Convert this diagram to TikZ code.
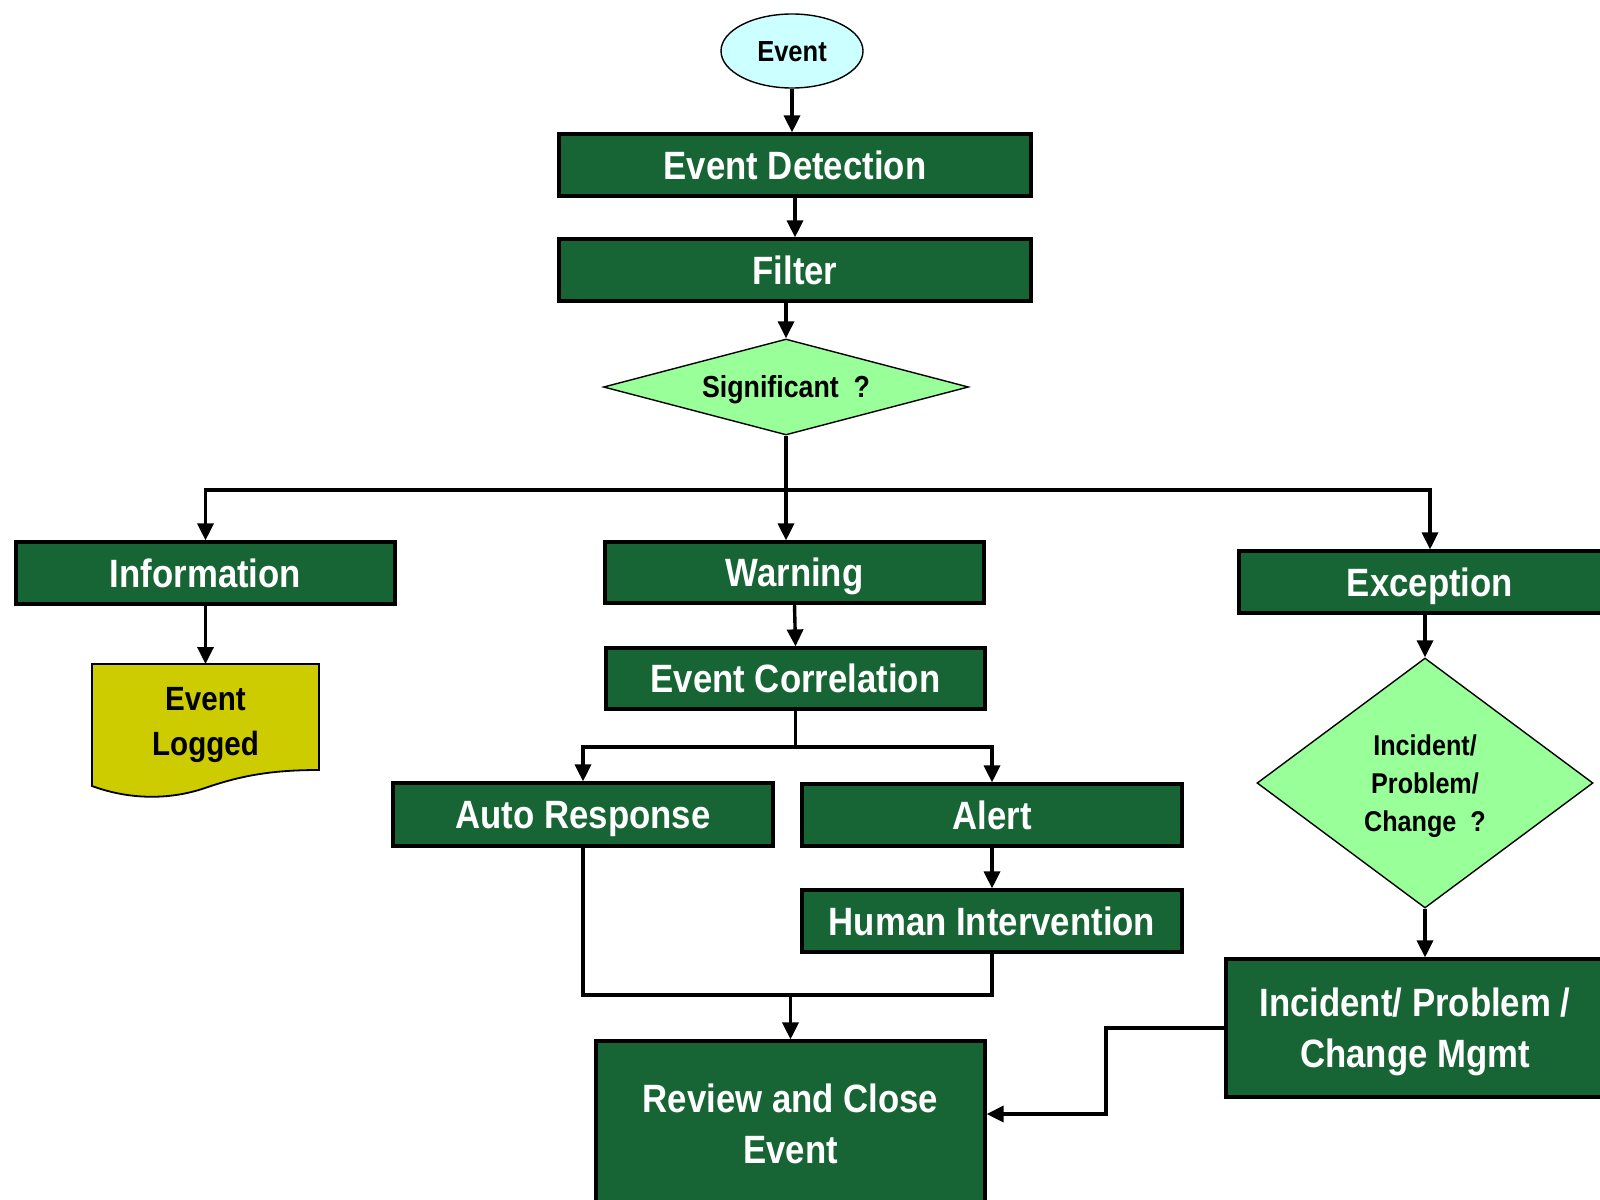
\documentclass[tikz,border=0pt]{standalone}
\usepackage{fontspec}
\setmainfont{Liberation Sans}[FakeStretch=0.88]
\usetikzlibrary{arrows.meta,shapes.geometric}
\definecolor{boxgreen}{RGB}{23,100,52}
\definecolor{evcyan}{RGB}{204,255,255}
\definecolor{decgreen}{RGB}{153,255,153}
\definecolor{logyellow}{RGB}{204,204,0}
\begin{document}
\begin{tikzpicture}[x=0.5pt,y=-0.5pt,
  greenbox/.style={draw=black,line width=1.6pt,fill=boxgreen,text=white,
    font=\fontsize{19.75}{25.5}\selectfont\bfseries,inner sep=0pt,align=center,text depth=0pt},
  oneline/.style={text height=14pt,text depth=0pt},
  decision/.style={diamond,draw=black,line width=0.7pt,fill=decgreen,inner sep=0pt,
    align=center,text depth=0pt},
  arr/.style={line width=1.7pt,-{Triangle[length=8.5pt,width=8pt]}},
  ln/.style={line width=1.7pt}]
\useasboundingbox (0,0) rectangle (1600,1199);
\clip (0,0) rectangle (1600,1199);
\fill[white] (0,0) rectangle (1600,1199);

% nodes
\node[ellipse,draw=black,line width=0.7pt,fill=evcyan,minimum width=142*0.5pt,minimum height=74*0.5pt,inner sep=0pt,
  font=\fontsize{14.5}{17}\selectfont\bfseries,text height=10.4pt,text depth=0pt] (ev) at (792,51) {Event};
\node[greenbox,oneline,minimum width=472*0.5pt,minimum height=62*0.5pt] (det) at (795,165) {Event Detection};
\node[greenbox,oneline,minimum width=472*0.5pt,minimum height=62*0.5pt] (filt) at (795,270) {Filter};
\node[decision,aspect=3.8,minimum width=365*0.5pt,minimum height=96*0.5pt,
  font=\fontsize{15.2}{18}\selectfont\bfseries,text height=10.9pt] (sig) at (786,387) {Significant ~?};

\node[greenbox,oneline,minimum width=379*0.5pt,minimum height=62*0.5pt] (info) at (205.5,573) {Information};
\node[greenbox,oneline,minimum width=379*0.5pt,minimum height=61*0.5pt] (warn) at (794.5,572.5) {Warning};
\node[greenbox,oneline,minimum width=382*0.5pt,minimum height=62*0.5pt] (exc) at (1430,582) {Exception};

\draw[line width=0.9pt,fill=logyellow] (92,664) -- (319,664) -- (319,770)
  .. controls (270,770) and (240,776) .. (205,788)
  .. controls (170,800) and (130,800) .. (92,786) -- cycle;
\node[minimum width=227*0.5pt,minimum height=122*0.5pt,inner sep=0pt,align=center,text depth=0pt,
  font=\fontsize{16.8}{22.5}\selectfont\bfseries] (logged) at (205.5,721) {Event\\Logged};

\node[greenbox,oneline,minimum width=379*0.5pt,minimum height=61*0.5pt] (corr) at (795.5,678.5) {Event Correlation};
\node[greenbox,oneline,minimum width=380*0.5pt,minimum height=63*0.5pt] (auto) at (583,814.5) {Auto Response};
\node[greenbox,oneline,minimum width=380*0.5pt,minimum height=62*0.5pt] (alert) at (992,815) {Alert};
\node[greenbox,oneline,minimum width=380*0.5pt,minimum height=62*0.5pt] (hum) at (992,921) {Human Intervention};

\node[decision,aspect=1.34,minimum width=336*0.5pt,minimum height=250*0.5pt,
  font=\fontsize{14.3}{19}\selectfont\bfseries] (idiam) at (1425,783) {Incident/\\Problem/\\Change ~?};
\node[greenbox,minimum width=378*0.5pt,minimum height=138*0.5pt] (inc) at (1415,1028) {Incident/ Problem /\\Change Mgmt};
\node[greenbox,minimum width=389*0.5pt,minimum height=166*0.5pt] (rev) at (790.5,1124) {Review and Close\\Event};

% connectors
\draw[arr] (ev.south) -- (ev.south |- det.north);
\draw[arr] (det.south) -- (filt.north);
\draw[arr] (sig.north |- filt.south) -- (sig.north);

\coordinate (br) at (786,490);
\draw[ln] (sig.south) -- (br);
\draw[arr] (br) -| (info.north);
\draw[arr] (br) -| (exc.north);
\draw[arr] (br) -- (br |- warn.north);

\draw[arr] (info.south) -- (logged.north |- 0,664);
\draw[arr] (warn.south) -- (corr.north);

\coordinate (cs) at (795.5,747);
\draw[ln] (corr.south) -- (cs);
\draw[arr] (cs) -| (auto.north);
\draw[arr] (cs) -| (alert.north);
\draw[arr] (alert.south) -- (hum.north);

\coordinate (jn) at (790.5,995);
\draw[ln] (auto.south) |- (jn);
\draw[ln] (hum.south) |- (jn);
\draw[arr] (jn) -- (rev.north);

\draw[arr] (exc.south -| idiam.north) -- (idiam.north);
\draw[arr] (idiam.south) -- (idiam.south |- inc.north);

\coordinate (jog) at (1106,1114);
\draw[arr] (inc.west) -| (jog) -- (jog -| rev.east);
\end{tikzpicture}
\end{document}
